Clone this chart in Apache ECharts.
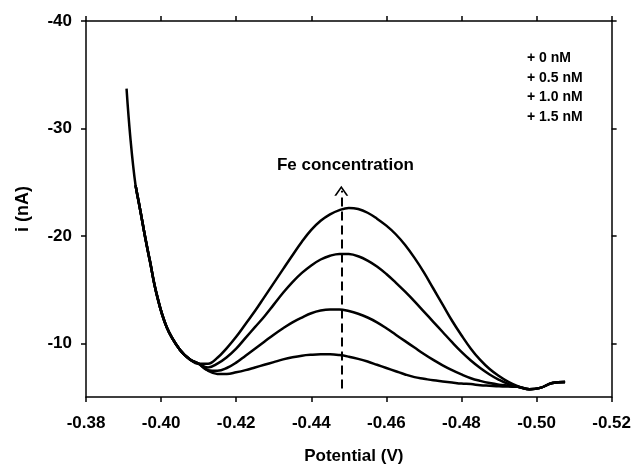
<!DOCTYPE html>
<html>
<head>
<meta charset="utf-8">
<script src="https://cdn.jsdelivr.net/npm/echarts@6/dist/echarts.min.js"></script>
<style>
html, body { margin: 0; padding: 0; background: #fff; }
#main { width: 634px; height: 470px; }
</style>
</head>
<body>
<div id="main"></div>
<script>
var font = 'Arial, "Liberation Sans", sans-serif';

// tick values
var yTicks = [-40, -30, -20, -10];

// legend / series names
var seriesNames = ['+ 0 nM', '+ 0.5 nM', '+ 1.0 nM', '+ 1.5 nM'];

// shared parts of the voltammograms [potential V, current nA]
var descentTop = [[-0.3908, -33.7], [-0.3918, -29.2]];
var descent = [[-0.3932, -24.7], [-0.3945, -22.3], [-0.3958, -19.8], [-0.3970, -17.7],
    [-0.3988, -14.6], [-0.4015, -11.5], [-0.4050, -9.4], [-0.4077, -8.5], [-0.4100, -8.1]];
var tail = [[-0.4981, -5.72], [-0.5010, -5.85], [-0.5042, -6.3], [-0.5076, -6.4]];

// peak region: potentials and currents of each addition
var peakX = [-0.4125, -0.415, -0.4175, -0.42, -0.4225, -0.425, -0.4275, -0.43, -0.4325, -0.435,
    -0.4375, -0.44, -0.4425, -0.445, -0.4475, -0.45, -0.4525, -0.455, -0.4575, -0.46,
    -0.4625, -0.465, -0.4675, -0.47, -0.4725, -0.475, -0.4775, -0.48, -0.4825, -0.485,
    -0.4875, -0.49, -0.4925, -0.495];
var y0 = [-7.45, -7.15, -7.15, -7.3, -7.5, -7.75, -8.0, -8.25, -8.5, -8.7,
    -8.85, -8.93, -8.97, -8.97, -8.9, -8.75, -8.55, -8.3, -8.0, -7.7,
    -7.4, -7.1, -6.85, -6.7, -6.55, -6.45, -6.35, -6.25, -6.2, -6.1,
    -6.05, -6.0, -5.97, -5.95];
var y05 = [-7.5, -7.45, -7.7, -8.2, -8.85, -9.5, -10.15, -10.8, -11.4, -11.95,
    -12.4, -12.8, -13.05, -13.15, -13.15, -13.0, -12.75, -12.4, -11.95, -11.4,
    -10.8, -10.2, -9.6, -9.0, -8.45, -7.95, -7.5, -7.1, -6.75, -6.5,
    -6.3, -6.15, -6.05, -5.95];
var y10 = [-7.75, -8.1, -8.7, -9.5, -10.5, -11.5, -12.5, -13.6, -14.7, -15.7,
    -16.55, -17.25, -17.8, -18.15, -18.32, -18.3, -18.1, -17.7, -17.15, -16.45,
    -15.65, -14.8, -13.9, -12.95, -12.0, -11.05, -10.1, -9.2, -8.4, -7.7,
    -7.1, -6.6, -6.2, -5.95];
var y15 = [-8.1, -8.65, -9.55, -10.6, -11.8, -13.0, -14.3, -15.6, -16.9, -18.2,
    -19.45, -20.55, -21.4, -22.0, -22.4, -22.6, -22.5, -22.15, -21.6, -20.95,
    -20.15, -19.15, -17.95, -16.6, -15.1, -13.6, -12.1, -10.75, -9.5, -8.45,
    -7.6, -6.95, -6.4, -6.0];

// annotation
var arrowFrom = [-0.448, -5.8];
var arrowTo = [-0.448, -24.2];
var noteText = 'Fe concentration';
var notePos = [-0.4491, -26.6];

var pair = function (ys) {
    return peakX.map(function (x, i) { return [x, ys[i]]; });
};
var curves = [
    descentTop.concat(descent, pair(y0), tail),
    descent.concat(pair(y05), tail),
    descent.concat(pair(y10), tail),
    descent.concat(pair(y15), tail)
];

var axisColor = '#000';
var labelStyle = { color: '#000', fontFamily: font, fontWeight: 'bold', fontSize: 17 };

var makeX = function (pos) {
    return {
        type: 'value', position: pos,
        min: -0.52, max: -0.38, interval: 0.02, inverse: true,
        axisLine: { onZero: false, lineStyle: { color: axisColor, width: 1.5 } },
        axisTick: { show: true, inside: false, length: 5, lineStyle: { color: axisColor, width: 1.5 } },
        axisLabel: pos === 'bottom' ? Object.assign({
            margin: 18,
            formatter: function (v) { return v.toFixed(2); }
        }, labelStyle) : { show: false },
        splitLine: { show: false }
    };
};
var makeY = function (pos) {
    return {
        type: 'value', position: pos,
        min: -40, max: -5, interval: 10, inverse: true,
        axisLine: { onZero: false, lineStyle: { color: axisColor, width: 1.5 } },
        axisTick: { show: true, inside: false, length: 5, customValues: yTicks,
            lineStyle: { color: axisColor, width: 1.5 } },
        axisLabel: pos === 'left' ? Object.assign({ margin: 14, customValues: yTicks }, labelStyle)
            : { show: false },
        splitLine: { show: false }
    };
};

var xBottom = makeX('bottom');
xBottom.name = 'Potential (V)';
xBottom.nameLocation = 'middle';
xBottom.nameGap = 51;
xBottom.nameTextStyle = { color: '#000', fontFamily: font, fontWeight: 'bold', fontSize: 17, padding: [0, 0, 0, 10] };

var yLeft = makeY('left');
yLeft.name = 'i (nA)';
yLeft.nameLocation = 'middle';
yLeft.nameGap = 54;
yLeft.nameTextStyle = { color: '#000', fontFamily: font, fontWeight: 'bold', fontSize: 18 };

var series = curves.map(function (d, i) {
    return {
        name: seriesNames[i],
        type: 'line',
        data: d,
        smooth: 0.4,
        showSymbol: false,
        symbol: 'none',
        lineStyle: { color: '#000', width: 2.5 },
        itemStyle: { color: '#000' }
    };
});

series[0].markLine = {
    silent: true,
    symbol: ['none', 'path://M0,10 L7,0 L14,10 L12,10 L7,2.8 L2,10 Z'],
    symbolSize: [14, 10],
    lineStyle: { color: '#000', width: 2, type: [9, 5] },
    label: { show: false },
    data: [[{ coord: arrowFrom }, { coord: arrowTo }]]
};
series[0].markPoint = {
    silent: true,
    symbol: 'rect',
    symbolSize: 1,
    itemStyle: { color: 'rgba(0,0,0,0)' },
    label: { show: true, position: 'inside', formatter: noteText,
        color: '#000', fontFamily: font, fontWeight: 'bold', fontSize: 17 },
    data: [{ coord: notePos }]
};

var myChart = echarts.init(document.getElementById('main'));
var option = {
    animation: false,
    backgroundColor: '#fff',
    grid: { left: 86, right: 22, top: 21, bottom: 69 },
    legend: {
        data: seriesNames,
        orient: 'vertical',
        left: 517, top: 46,
        icon: 'rect',
        itemWidth: 0, itemHeight: 0,
        itemGap: 5.7,
        selectedMode: false,
        textStyle: { color: '#000', fontFamily: font, fontWeight: 'bold', fontSize: 14, lineHeight: 14 }
    },
    xAxis: [xBottom, makeX('top')],
    yAxis: [yLeft, makeY('right')],
    series: series
};
myChart.setOption(option);
</script>
</body>
</html>
